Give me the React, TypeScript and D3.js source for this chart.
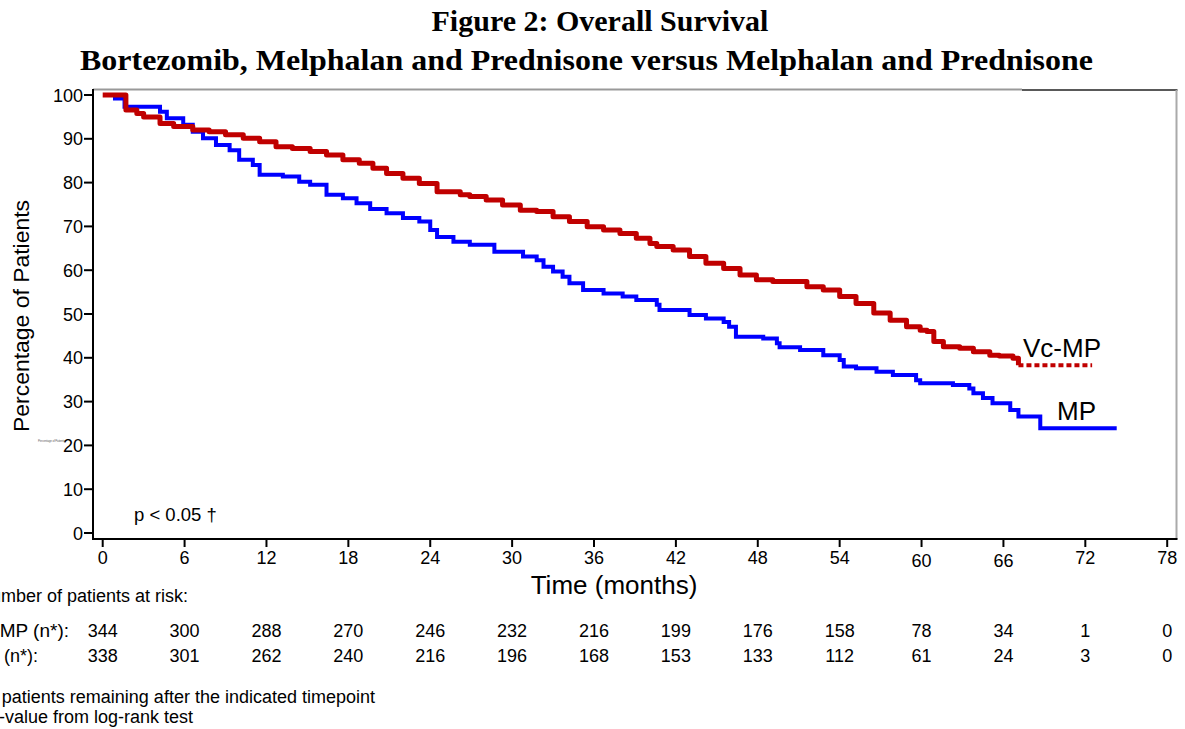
import React from "react";
import * as d3 from "d3";

// ---- Data ----
const monthTicks = [0, 6, 12, 18, 24, 30, 36, 42, 48, 54, 60, 66, 72, 78];
const percentTicks = [0, 10, 20, 30, 40, 50, 60, 70, 80, 90, 100];

// Vc-MP Kaplan–Meier steps [month, % surviving]
const vcmpSteps: [number, number][] = [
  [0, 100], [1.7, 96.6], [2.5, 95.8], [3, 95], [4.2, 93.5], [5.2, 92.8], [6.6, 92],
  [7.8, 91.6], [9, 90.9], [10.3, 90.1], [11.5, 89.3], [12.7, 88.2], [13.9, 87.8],
  [15.2, 87.1], [16.4, 86.3], [17.6, 85.2], [18.8, 84.4], [19.8, 83.3], [20.8, 82.1],
  [22, 81], [23.2, 79.8], [24.5, 77.9], [26.2, 77.2], [26.9, 76.8], [28.1, 76],
  [29.3, 74.9], [30.6, 73.7], [31.8, 73.4], [33, 72.2], [34.2, 71.1], [35.5, 69.9],
  [36.7, 69.2], [37.9, 68.4], [39.1, 67.3], [40.1, 66.1], [40.6, 65.4], [41.8, 64.6],
  [43, 63.1], [44.2, 61.6], [45.5, 60.4], [46.7, 58.9], [47.9, 57.8], [49.1, 57.4],
  [51.6, 56.2], [52.8, 55.5], [54, 54], [55.2, 52.4], [56.5, 50.2], [57.7, 48.6],
  [58.9, 47.1], [59.9, 46.3], [60.4, 46], [60.9, 43.7], [61.6, 42.5], [62.8, 42.2],
  [63.8, 41.4], [65, 40.6], [65.7, 40.4], [66.7, 39.9], [67.1, 38.3],
];
const vcmpTail: [number, number][] = [[67.1, 38.3], [72.5, 38.3]];

// MP Kaplan–Meier steps
const mpSteps: [number, number][] = [
  [0.3, 100], [0.9, 99.2], [1.6, 97.3], [4.2, 96.2], [4.7, 94.7], [5.9, 93.2],
  [6.6, 91.6], [7.35, 90.1], [8.3, 88.6], [9.3, 87.4], [10, 85.2], [11, 84],
  [11.5, 81.8], [13.2, 81.4], [14.4, 80.2], [15.2, 79.5], [16.4, 77.2], [17.6, 76.4],
  [18.6, 75.3], [19.6, 74], [20.8, 73], [22, 71.9], [23.2, 71.1], [24, 69.2],
  [24.5, 67.6], [25.7, 66.5], [26.9, 65.8], [28.7, 64.2], [30.8, 63.1], [31.8, 62.3],
  [32.3, 60.8], [33, 59.7], [33.7, 58.5], [34.2, 57], [35.2, 55.5], [36.7, 54.7],
  [38.1, 54], [39.1, 53.2], [40.6, 52.1], [40.8, 50.9], [43, 49.8], [44.2, 49],
  [45.5, 48.2], [45.9, 47.1], [46.4, 44.8], [48.4, 44.4], [49.4, 43.3], [49.6, 42.4],
  [51.1, 41.8], [52.8, 40.6], [54, 39.5], [54.3, 38], [55.2, 37.6], [56.7, 36.8],
  [57.9, 36.1], [59.6, 34.9], [59.9, 34.2], [62.3, 33.8], [63.5, 33], [63.8, 31.9],
  [64.5, 30.8], [65.2, 29.6], [66.5, 28.1], [67.1, 26.6], [68.7, 23.9], [74.3, 23.9],
];

const atRiskVcMP = [344, 300, 288, 270, 246, 232, 216, 199, 176, 158, 78, 34, 1, 0];
const atRiskMP = [338, 301, 262, 240, 216, 196, 168, 153, 133, 112, 61, 24, 3, 0];

const SANS = "'Liberation Sans', Arial, sans-serif";
const SERIF = "'Liberation Serif', 'Times New Roman', serif";

export default function App() {
  const W = 1185, H = 729;
  const x = d3.scaleLinear().domain([0, 78]).range([102.7, 1167.2]);
  const y = d3.scaleLinear().domain([0, 100]).range([533, 95]);
  const step = d3.line<[number, number]>().x(d => x(d[0])).y(d => y(d[1])).curve(d3.curveStepAfter);
  const flat = d3.line<[number, number]>().x(d => x(d[0])).y(d => y(d[1]));

  const axisLeft = 93, axisBottom = 539, frameTop = 90, frameRight = 1176.5;

  return (
    <svg width={W} height={H} style={{ position: "absolute", left: 0, top: 0, background: "#fff" }}>
      <rect width={W} height={H} fill="#fff" />
      {/* Titles */}
      <text x={600} y={31} textAnchor="middle" fontFamily={SERIF} fontWeight="bold" fontSize={30}>
        Figure 2: Overall Survival
      </text>
      <text x={586.5} y={70} textAnchor="middle" fontFamily={SERIF} fontWeight="bold" fontSize={30}
        textLength={1013} lengthAdjust="spacingAndGlyphs">
        Bortezomib, Melphalan and Prednisone versus Melphalan and Prednisone
      </text>

      {/* Frame */}
      <line x1={axisLeft} x2={1022} y1={frameTop - 0.5} y2={frameTop - 0.5} stroke="#999" strokeWidth={2} />
      <line x1={1022} x2={frameRight + 1} y1={frameTop} y2={frameTop} stroke="#222" strokeWidth={1.5} />
      <line x1={frameRight} x2={frameRight} y1={frameTop} y2={axisBottom} stroke="#aaa" strokeWidth={2} />
      <line x1={axisLeft} x2={frameRight + 1} y1={axisBottom} y2={axisBottom} stroke="#000" strokeWidth={2} />
      <line x1={axisLeft} x2={axisLeft} y1={frameTop - 1} y2={axisBottom + 1} stroke="#000" strokeWidth={2} />

      {/* Y ticks */}
      {percentTicks.map(t => (
        <g key={"y" + t}>
          <line x1={84} x2={axisLeft} y1={y(t)} y2={y(t)} stroke="#000" strokeWidth={2} />
          <text x={83} y={y(t) + 6.5} textAnchor="end" fontFamily={SANS} fontSize={18}>{t}</text>
        </g>
      ))}
      {/* X ticks */}
      {monthTicks.map(t => (
        <g key={"x" + t}>
          <line x1={x(t)} x2={x(t)} y1={axisBottom} y2={axisBottom + 8} stroke="#000" strokeWidth={2} />
          <text x={x(t)} y={t === 60 || t === 66 ? 567 : 564} textAnchor="middle" fontFamily={SANS} fontSize={18}>{t}</text>
        </g>
      ))}

      {/* Axis titles */}
      <text transform="translate(29,316) rotate(-90)" textAnchor="middle" fontFamily={SANS} fontSize={22}
        textLength={232} lengthAdjust="spacingAndGlyphs">
        Percentage of Patients
      </text>
      <text x={38} y={442} fontFamily={SANS} fontSize={3} fill="#666" textLength={27}>Percentage of Patients</text>
      <text x={614} y={594} textAnchor="middle" fontFamily={SANS} fontSize={26}>Time (months)</text>

      {/* Curves */}
      <path d={step(mpSteps) || ""} fill="none" stroke="#0000ff" strokeWidth={4} />
      <path d={step(vcmpSteps) || ""} fill="none" stroke="#c00000" strokeWidth={5} strokeLinejoin="round" />
      <path d={flat(vcmpTail) || ""} fill="none" stroke="#c00000" strokeWidth={4} strokeDasharray="5,3" />

      {/* Curve labels */}
      <text x={1023} y={357} fontFamily={SANS} fontSize={26}>Vc-MP</text>
      <text x={1057} y={420} fontFamily={SANS} fontSize={26}>MP</text>

      {/* p-value */}
      <text x={134} y={521} fontFamily={SANS} fontSize={18.5}>p &lt; 0.05 †</text>

      {/* At-risk table */}
      <text x={188} y={602} textAnchor="end" fontFamily={SANS} fontSize={18}>Number of patients at risk:</text>
      <text x={69} y={637} textAnchor="end" fontFamily={SANS} fontSize={19}>Vc-MP (n*):</text>
      <text x={38} y={662} textAnchor="end" fontFamily={SANS} fontSize={18}>MP (n*):</text>
      {atRiskVcMP.map((n, i) => (
        <text key={"a" + i} x={x(monthTicks[i])} y={637} textAnchor="middle" fontFamily={SANS} fontSize={18}>{n}</text>
      ))}
      {atRiskMP.map((n, i) => (
        <text key={"b" + i} x={x(monthTicks[i])} y={662} textAnchor="middle" fontFamily={SANS} fontSize={18}>{n}</text>
      ))}

      {/* Footnotes */}
      <text x={375} y={703} textAnchor="end" fontFamily={SANS} fontSize={18}>n* = patients remaining after the indicated timepoint</text>
      <text x={193} y={723} textAnchor="end" fontFamily={SANS} fontSize={18}>† p-value from log-rank test</text>
    </svg>
  );
}
